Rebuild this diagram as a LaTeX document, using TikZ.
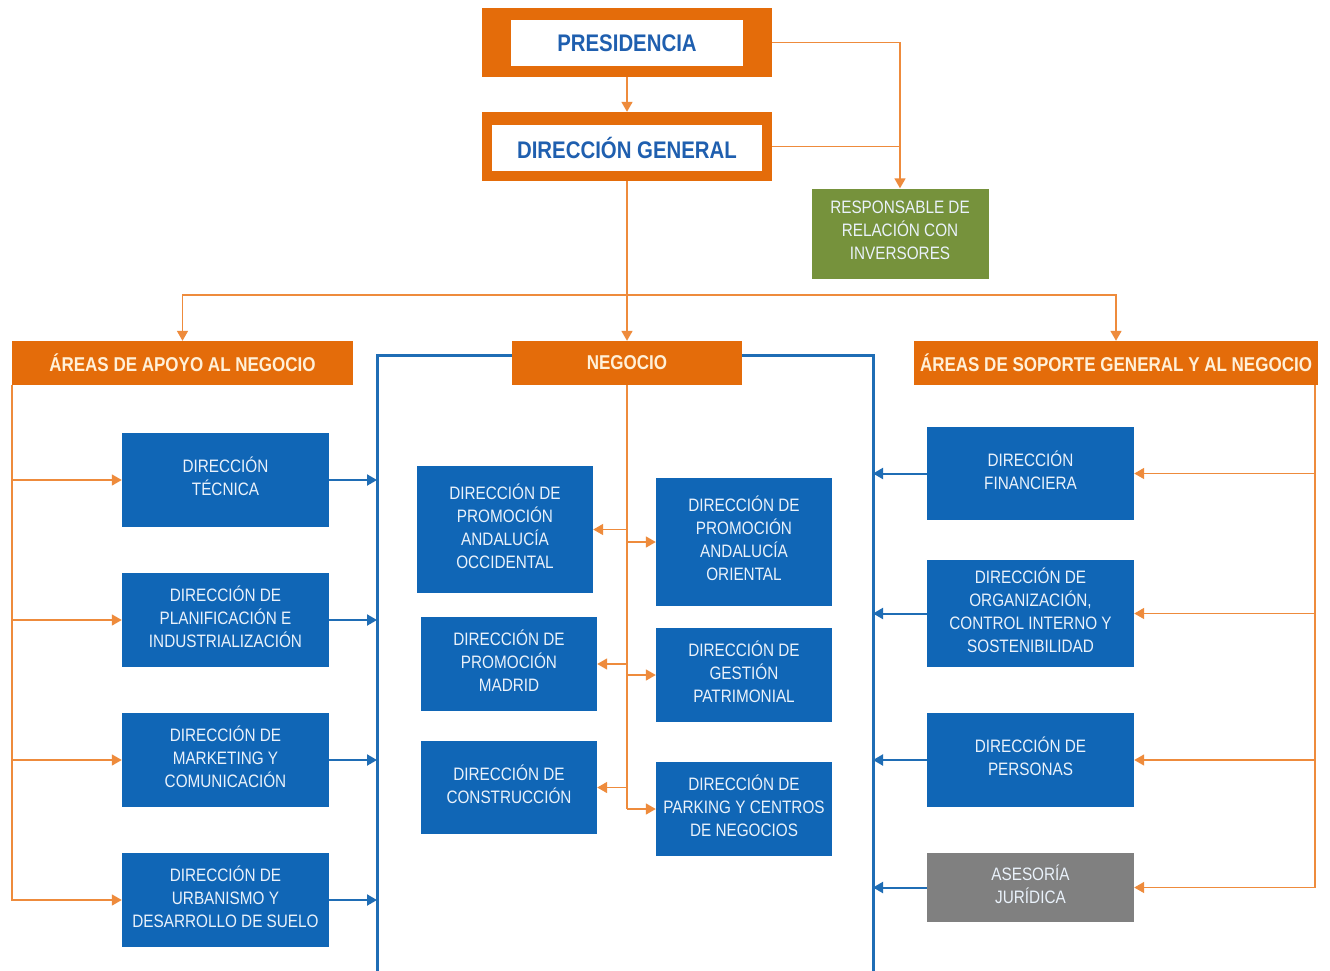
\documentclass[tikz,border=0pt]{standalone}
\usepackage{fontspec}
\setmainfont{Liberation Sans}[FakeStretch=0.85]
\usetikzlibrary{arrows.meta}
\definecolor{ofill}{HTML}{E46C0A}
\definecolor{oline}{HTML}{EE8B3C}
\definecolor{bfill}{HTML}{1066B6}
\definecolor{bline}{HTML}{1F6DB5}
\definecolor{btext}{HTML}{EAF2FB}
\definecolor{htext}{HTML}{FFF0D8}
\definecolor{gfill}{HTML}{76923C}
\definecolor{gyfill}{HTML}{808080}
\definecolor{ptext}{HTML}{1F5FAF}
\begin{document}
\begin{tikzpicture}[x=1pt,y=-1pt,
  base/.style={inner sep=0pt, align=center, font=\fontsize{18}{23}\selectfont},
  bluebox/.style={base, fill=bfill, text=btext, text depth=7pt},
  greenbox/.style={base, fill=gfill, text=btext, text depth=7pt},
  graybox/.style={base, fill=gyfill, text=btext, text depth=7pt},
  headbox/.style={base, fill=ofill, text=htext, font=\bfseries\fontsize{20}{24}\selectfont},
  outerbox/.style={inner sep=0pt, fill=ofill},
  innerbox/.style={base, fill=white, text=ptext, font=\bfseries\fontsize{24}{28}\selectfont},
  oconn/.style={draw=oline, line width=1.6pt},
  oarr/.style={oconn, -{Triangle[width=11pt,length=10pt]}},
  barr/.style={draw=bline, line width=2pt, -{Triangle[width=11pt,length=10pt]}},
  frame/.style={draw=bline, line width=3pt}]
\path[use as bounding box, fill=white] (0,0) rectangle (1330,970);

% top
\node[outerbox, minimum width=290pt, minimum height=69pt] (pres) at (627,42.5) {};
\node[innerbox, minimum width=232pt, minimum height=46pt] (presin) at (627,43) {PRESIDENCIA};
\node[outerbox, minimum width=290pt, minimum height=69pt] (dg) at (627,146.5) {};
\node[innerbox, minimum width=270pt, minimum height=46pt] (dgin) at (627,148) {DIRECCIÓN GENERAL};
\node[greenbox, minimum width=177pt, minimum height=90pt] (resp) at (900,233.5) {RESPONSABLE DE\\RELACIÓN CON\\INVERSORES};

\draw[oarr] (pres.south) -- (dg.north);
\draw[oarr] (pres.east) -| (resp.north);
\draw[oconn] (dg.east) -- (dg.east -| resp.north);

% frame
\coordinate (fl) at (377,355);
\coordinate (fr) at (873,355);
\draw[frame] (377,985) -- (fl) -- (fr) -- (873,985);

% headers
\node[headbox, minimum width=341pt, minimum height=44pt] (apoyo) at (182.5,363) {ÁREAS DE APOYO AL NEGOCIO};
\node[headbox, minimum width=230pt, minimum height=44pt] (negocio) at (627,363) {NEGOCIO};
\node[headbox, minimum width=404pt, minimum height=44pt] (soporte) at (1116,363) {ÁREAS DE SOPORTE GENERAL Y AL NEGOCIO};

\coordinate (bus) at (627,295);
\draw[oarr] (dg.south) -- (negocio.north);
\draw[oarr] (bus) -| (apoyo.north);
\draw[oarr] (bus) -| (soporte.north);

% left column
\node[bluebox, minimum width=207pt, minimum height=94pt] (dt) at (225.5,480) {DIRECCIÓN\\TÉCNICA};
\node[bluebox, minimum width=207pt, minimum height=94pt] (pi) at (225.5,620) {DIRECCIÓN DE\\PLANIFICACIÓN E\\INDUSTRIALIZACIÓN};
\node[bluebox, minimum width=207pt, minimum height=94pt] (mc) at (225.5,760) {DIRECCIÓN DE\\MARKETING Y\\COMUNICACIÓN};
\node[bluebox, minimum width=207pt, minimum height=94pt] (us) at (225.5,900) {DIRECCIÓN DE\\URBANISMO Y\\DESARROLLO DE SUELO};

\foreach \n in {dt,pi,mc,us}{
  \draw[oarr] (apoyo.south west) |- (\n.west);
  \draw[barr] (\n.east) -- (\n.east -| fl);
}

% right column
\node[bluebox, minimum width=207pt, minimum height=93pt] (df) at (1030.5,473.5) {DIRECCIÓN\\FINANCIERA};
\node[bluebox, minimum width=207pt, minimum height=107pt] (org) at (1030.5,613.5) {DIRECCIÓN DE\\ORGANIZACIÓN,\\CONTROL INTERNO Y\\SOSTENIBILIDAD};
\node[bluebox, minimum width=207pt, minimum height=94pt] (per) at (1030.5,760) {DIRECCIÓN DE\\PERSONAS};
\node[graybox, minimum width=207pt, minimum height=69pt] (ase) at (1030.5,887.5) {ASESORÍA\\JURÍDICA};

\coordinate (rb) at ([xshift=-3pt]soporte.south east);
\foreach \n in {df,org,per,ase}{
  \draw[oarr] (rb) |- (\n.east);
  \draw[barr] (\n.west) -- (\n.west -| fr);
}

% center
\node[bluebox, minimum width=176pt, minimum height=127pt] (occ) at (505,529.5) {DIRECCIÓN DE\\PROMOCIÓN\\ANDALUCÍA\\OCCIDENTAL};
\node[bluebox, minimum width=176pt, minimum height=128pt] (ori) at (744,542) {DIRECCIÓN DE\\PROMOCIÓN\\ANDALUCÍA\\ORIENTAL};
\node[bluebox, minimum width=176pt, minimum height=94pt] (mad) at (509,664) {DIRECCIÓN DE\\PROMOCIÓN\\MADRID};
\node[bluebox, minimum width=176pt, minimum height=94pt] (ges) at (744,675) {DIRECCIÓN DE\\GESTIÓN\\PATRIMONIAL};
\node[bluebox, minimum width=176pt, minimum height=93pt] (con) at (509,787.5) {DIRECCIÓN DE\\CONSTRUCCIÓN};
\node[bluebox, minimum width=176pt, minimum height=94pt] (par) at (744,809) {DIRECCIÓN DE\\PARKING Y CENTROS\\DE NEGOCIOS};

\draw[oconn] (negocio.south) -- (negocio.south |- par.west);
\foreach \n in {occ,mad,con}{
  \draw[oarr] (negocio.south |- \n.east) -- (\n.east);
}
\foreach \n in {ori,ges,par}{
  \draw[oarr] (negocio.south |- \n.west) -- (\n.west);
}
\end{tikzpicture}
\end{document}
